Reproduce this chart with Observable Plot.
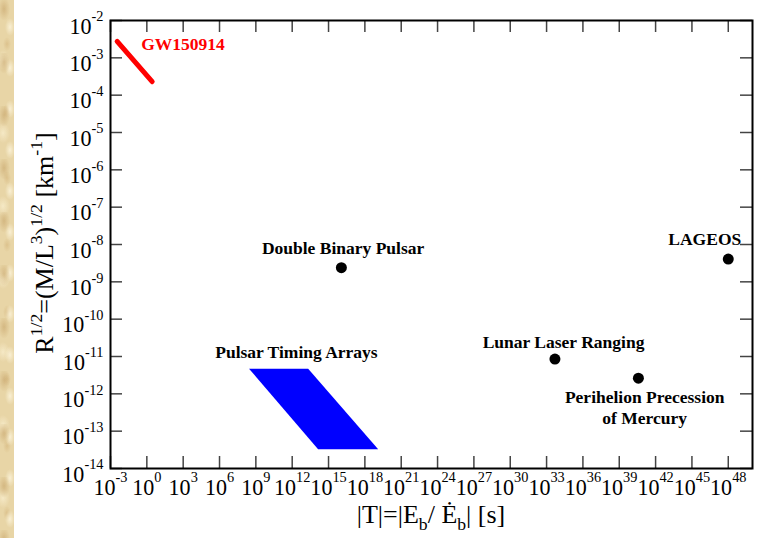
<!DOCTYPE html>
<html><head><meta charset="utf-8">
<script src="https://cdn.jsdelivr.net/npm/d3@7"></script>
<script src="https://cdn.jsdelivr.net/npm/@observablehq/plot@0.6"></script>
<style>
body{margin:0;background:#fff;}
#wrap{position:relative;width:765px;height:538px;overflow:hidden;background:#fff;}
#strip{position:absolute;left:0;top:0;width:14px;height:538px;z-index:2;
 background-color:#e8d5a6;
 background-image:
  radial-gradient(ellipse 6px 12px at 4px 9px, rgba(196,160,100,.55), transparent),
  radial-gradient(ellipse 5px 9px at 10px 27px, rgba(255,248,226,.75), transparent),
  radial-gradient(ellipse 4px 7px at 7px 44px, rgba(205,170,110,.45), transparent),
  radial-gradient(ellipse 7px 10px at 3px 60px, rgba(250,240,210,.7), transparent);
 background-size:14px 53px,14px 41px,14px 67px,14px 73px;}
</style></head><body><div id="wrap"><div id="strip"></div></div>
<script>
// ---- data (exponents of 10) ----
const xTickExps = [-3,0,3,6,9,12,15,18,21,24,27,30,33,36,39,42,45,48];
const yTickExps = [-14,-13,-12,-11,-10,-9,-8,-7,-6,-5,-4,-3,-2];

const gwXExp = [-2.45, 0.44];
const gwYExp = [-2.56, -3.64];

const ptaYExp  = [-11.34, -13.5];
const ptaX1Exp = [8.48, 14.18];
const ptaX2Exp = [13.36, 19.14];

const pointNames = ["Double Binary Pulsar","Lunar Laser Ranging","Perihelion Precession of Mercury","LAGEOS"];
const pointXExp = [16.06, 33.69, 40.58, 48.0];
const pointYExp = [-8.62, -11.07, -11.58, -8.39];

const labelTexts = ["Double Binary Pulsar","Lunar Laser Ranging","Pulsar Timing Arrays","Perihelion Precession\nof Mercury","LAGEOS"];
const labelXExp = [16.2, 34.4, 12.35, 41.1, 46.06];
const labelYExp = [-8.09, -10.6, -10.85, -12.35, -7.84];

const gwLabel = "GW150914";
const gwLabelXExp = -0.47;
const gwLabelYExp = -2.64;

const p10 = e => Math.pow(10, e);
const xTicks = xTickExps.map(p10);
const yTicks = yTickExps.map(p10);
const gw = gwXExp.map((e,i)=>({x:p10(e), y:p10(gwYExp[i])}));
const pta = ptaYExp.map((e,i)=>({y:p10(e), x1:p10(ptaX1Exp[i]), x2:p10(ptaX2Exp[i])}));
const points = pointNames.map((n,i)=>({name:n, x:p10(pointXExp[i]), y:p10(pointYExp[i])}));
const labels = labelTexts.map((t,i)=>({t, x:p10(labelXExp[i]), y:p10(labelYExp[i])}));

const W = 765, H = 538, mT = 20, mB = 70, mL = 110, mR = 13;
const innerH = H - mT - mB, innerW = W - mL - mR, tk = 12;
const fmt = d => "10^" + Math.round(Math.log10(d));
const serif = "'Liberation Serif','Times New Roman',serif";

const chart = Plot.plot({
  width: W, height: H, marginTop: mT, marginBottom: mB, marginLeft: mL, marginRight: mR,
  style: {fontFamily: serif, background: "transparent", color: "black"},
  x: {type: "log", domain: [1e-3, 1e50]},
  y: {type: "log", domain: [1e-14, 1e-2]},
  marks: [
    Plot.areaX(pta, {y: "y", x1: "x1", x2: "x2", fill: "#0000ff", curve: "linear"}),
    Plot.line(gw, {x: "x", y: "y", stroke: "#ff0000", strokeWidth: 5}),
    Plot.dot(points, {x: "x", y: "y", r: 5.5, fill: "black"}),
    Plot.text(labels, {x: "x", y: "y", text: "t", fontSize: 17.5, fontWeight: "bold", fill: "black", lineHeight: 1.18, fontFamily: serif}),
    Plot.text([gwLabel], {x: () => p10(gwLabelXExp), y: () => p10(gwLabelYExp), text: d => d, textAnchor: "start", fontSize: 17.5, fontWeight: "bold", fill: "#ff0000", fontFamily: serif}),
    Plot.tickX(xTicks, {x: d => d, insetTop: innerH - tk, stroke: "#444", strokeWidth: 1.5}),
    Plot.tickX(xTicks, {x: d => d, insetBottom: innerH - tk, stroke: "#444", strokeWidth: 1.5}),
    Plot.tickY(yTicks, {y: d => d, insetRight: innerW - tk, stroke: "#444", strokeWidth: 1.5}),
    Plot.tickY(yTicks, {y: d => d, insetLeft: innerW - tk, stroke: "#444", strokeWidth: 1.5}),
    Plot.axisX({ticks: xTicks, tickSize: 0, tickPadding: 9, tickFormat: fmt, fontSize: 24, label: null}),
    Plot.axisY({ticks: yTicks, tickSize: 0, tickPadding: 7, dy: 5.5, tickFormat: fmt, fontSize: 24, label: null}),
    Plot.frame({stroke: "black", strokeWidth: 2})
  ]
});
document.getElementById("wrap").appendChild(chart);

const svg = d3.select(chart);
// superscript tick labels, slightly condensed horizontally
svg.selectAll('g[aria-label="x-axis tick label"] text, g[aria-label="y-axis tick label"] text').each(function(){
  const t = d3.select(this);
  const s = t.text();
  const e = s.split("^")[1];
  const tr = t.attr("transform") || "";
  t.attr("transform", tr + " scale(0.92,1)");
  t.text(null);
  t.append("tspan").text("10");
  t.append("tspan").attr("dy", -12.5).attr("font-size", "0.65em").text(e);
});

function rich(g, parts, size) {
  let cur = 0;
  parts.forEach(([s, sh]) => {
    const sp = g.append("tspan").text(s);
    const target = sh === 1 ? -0.42*size : sh === -1 ? 0.28*size : 0;
    if (target !== cur) sp.attr("dy", target - cur);
    cur = target;
    if (sh !== 0) sp.attr("font-size", 0.68*size);
  });
}
// y-axis title
const yt = svg.append("text").attr("transform", "translate(53,243) rotate(-90)")
  .attr("text-anchor", "middle").attr("font-size", 26).attr("font-family", serif).attr("fill", "black");
rich(yt, [["R",0],["1/2",1],["=(M/L",0],["3",1],[")",0],["1/2",1],[" [km",0],["-1",1],["]",0]], 26);
// x-axis title
const xt = svg.append("text").attr("transform", "translate(431,523)")
  .attr("text-anchor", "middle").attr("font-size", 26).attr("font-family", serif).attr("fill", "black");
rich(xt, [["|T|=|E",0],["b",-1],["/ \u0116",0],["b",-1],["| [s]",0]], 26);
</script></body></html>
